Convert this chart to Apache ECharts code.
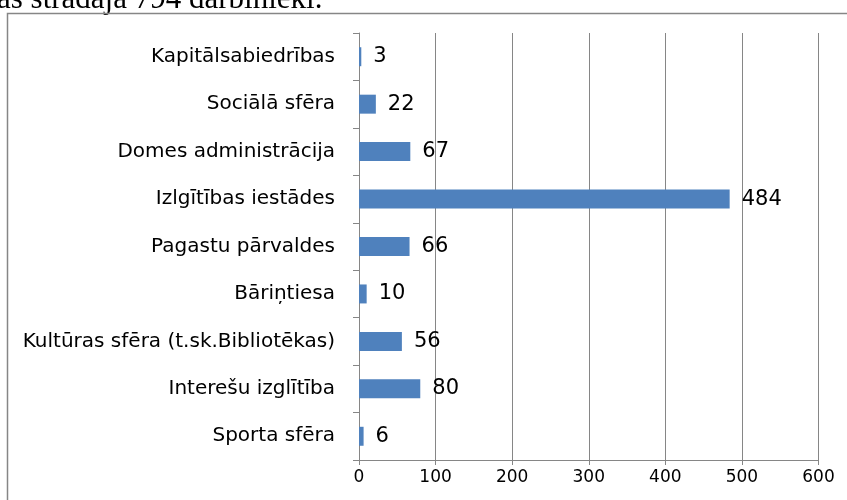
<!DOCTYPE html>
<html>
<head>
<meta charset="utf-8">
<script src="https://cdn.jsdelivr.net/npm/echarts@6/dist/echarts.min.js"></script>
<style>
    html, body { margin: 0; padding: 0; background: #fff; }
    #chart { width: 847px; height: 500px; }
</style>
</head>
<body>
<div id="chart"></div>
<script>
    // kategorijas no augšas uz leju
    const categories = [
        'Kapitālsabiedrības',
        'Sociālā sfēra',
        'Domes administrācija',
        'Izlgītības iestādes',
        'Pagastu pārvaldes',
        'Bāriņtiesa',
        'Kultūras sfēra (t.sk.Bibliotēkas)',
        'Interešu izglītība',
        'Sporta sfēra'
    ];
    const values = [3, 22, 67, 484, 66, 10, 56, 80, 6];
    const xTicks = [0, 100, 200, 300, 400, 500, 600];

    const chart = echarts.init(document.getElementById('chart'));
    const font = '"DejaVu Sans", sans-serif';

    chart.setOption({
        animation: false,
        backgroundColor: '#fff',
        graphic: [
            {
                type: 'text',
                left: -3,
                top: -16,
                style: {
                    text: 'as strādāja 794 darbinieki.',
                    font: '31px "Liberation Serif", "DejaVu Serif", serif',
                    fill: '#000'
                }
            },
            {
                type: 'rect',
                shape: {x: 7.5, y: 13.5, width: 900, height: 600},
                style: {fill: 'none', stroke: '#868686', lineWidth: 1.5}
            }
        ],
        grid: {
            left: 359,
            right: 28.5,
            top: 33,
            bottom: 40
        },
        xAxis: {
            type: 'value',
            min: xTicks[0],
            max: xTicks[xTicks.length - 1],
            interval: 100,
            axisLine: {show: true, lineStyle: {color: '#868686'}},
            axisTick: {show: true, length: 5, inside: false, lineStyle: {color: '#868686'}},
            axisLabel: {
                color: '#000',
                fontSize: 17,
                fontFamily: font,
                margin: 9
            },
            splitLine: {show: true, lineStyle: {color: '#868686', width: 1}}
        },
        yAxis: {
            type: 'category',
            inverse: true,
            data: categories,
            axisLine: {show: true, lineStyle: {color: '#868686'}},
            axisTick: {show: true, length: 6, lineStyle: {color: '#868686'}},
            axisLabel: {
                color: '#000',
                fontSize: 20,
                fontFamily: font,
                margin: 24
            }
        },
        series: [
            {
                type: 'bar',
                data: values,
                barCategoryGap: '60%',
                itemStyle: {color: '#4F81BD'},
                label: {
                    show: true,
                    position: 'right',
                    distance: 12,
                    color: '#000',
                    fontSize: 21,
                    fontFamily: font
                }
            }
        ]
    });
</script>
</body>
</html>
